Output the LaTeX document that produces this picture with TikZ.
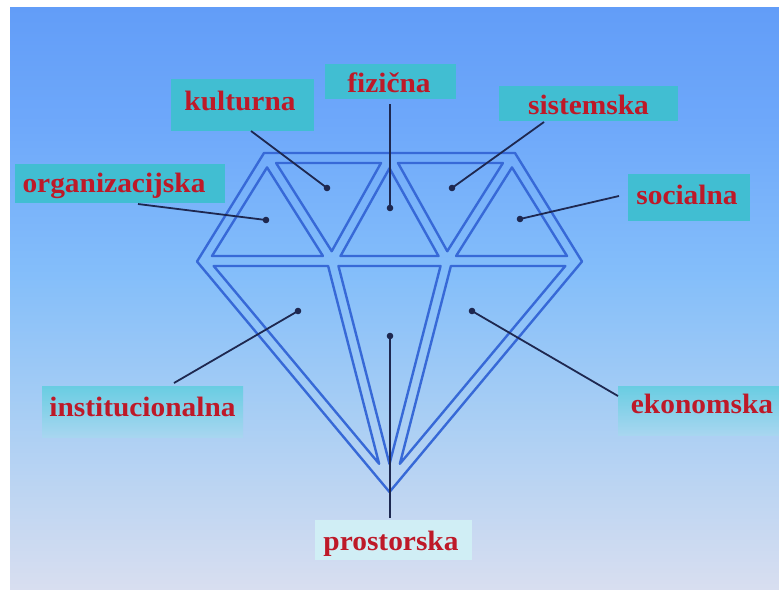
\documentclass[tikz,border=0pt]{standalone}
\usepackage{fontspec}
\setmainfont{Liberation Serif}
\newfontfamily\lblfont[FakeStretch=1.05]{Liberation Serif}
\definecolor{bgA}{RGB}{216,222,240}
\definecolor{bgB}{RGB}{168,206,244}
\definecolor{bgC}{RGB}{132,190,250}
\definecolor{bgD}{RGB}{110,168,250}
\definecolor{bgE}{RGB}{98,157,248}
\definecolor{facetblue}{RGB}{55,105,215}
\definecolor{ptrnavy}{RGB}{30,40,80}
\definecolor{lblred}{RGB}{190,25,40}
\definecolor{boxteal}{RGB}{65,190,210}
\definecolor{boxtealB}{RGB}{105,205,226}
\definecolor{boxfade}{RGB}{168,214,240}
\definecolor{boxlight}{RGB}{208,238,245}
\pgfdeclareverticalshading{bgshade}{100bp}{color(0bp)=(bgA); color(25bp)=(bgA); color(40bp)=(bgB); color(52bp)=(bgC); color(65bp)=(bgD); color(75bp)=(bgE); color(100bp)=(bgE)}
\tikzset{
  facetline/.style={draw=facetblue, line width=2.4pt, line join=round},
  ptr/.style={draw=ptrnavy, line width=1.8pt},
  lbl/.style={anchor=base, inner sep=0pt, text=lblred, font=\lblfont\bfseries\fontsize{28}{30}\selectfont},
  boxsolid/.style={fill=boxteal},
  boxfaded/.style={top color=boxtealB, bottom color=boxfade},
}
\newcommand{\facetdist}{5}
\newcommand{\facet}[6]{%
  \pgfmathsetmacro\fxA{#1/100}\pgfmathsetmacro\fyA{#2/100}%
  \pgfmathsetmacro\fxB{#3/100}\pgfmathsetmacro\fyB{#4/100}%
  \pgfmathsetmacro\fxC{#5/100}\pgfmathsetmacro\fyC{#6/100}%
  \pgfmathsetmacro\fla{veclen(\fxB-\fxC,\fyB-\fyC)}%
  \pgfmathsetmacro\flb{veclen(\fxA-\fxC,\fyA-\fyC)}%
  \pgfmathsetmacro\flc{veclen(\fxA-\fxB,\fyA-\fyB)}%
  \pgfmathsetmacro\fper{\fla+\flb+\flc}%
  \pgfmathsetmacro\fix{(\fla*\fxA+\flb*\fxB+\flc*\fxC)/\fper}%
  \pgfmathsetmacro\fiy{(\fla*\fyA+\flb*\fyB+\flc*\fyC)/\fper}%
  \pgfmathsetmacro\far{abs((\fxB-\fxA)*(\fyC-\fyA)-(\fxC-\fxA)*(\fyB-\fyA))}%
  \pgfmathsetmacro\frr{\far/\fper}%
  \pgfmathsetmacro\fk{(\frr-\facetdist/100)/\frr}%
  \pgfmathsetmacro\pax{100*(\fix+\fk*(\fxA-\fix))}\pgfmathsetmacro\pay{100*(\fiy+\fk*(\fyA-\fiy))}%
  \pgfmathsetmacro\pbx{100*(\fix+\fk*(\fxB-\fix))}\pgfmathsetmacro\pby{100*(\fiy+\fk*(\fyB-\fiy))}%
  \pgfmathsetmacro\pcx{100*(\fix+\fk*(\fxC-\fix))}\pgfmathsetmacro\pcy{100*(\fiy+\fk*(\fyC-\fiy))}%
  \draw[facetline] (\pax,\pay) -- (\pbx,\pby) -- (\pcx,\pcy) -- cycle;%
}
\begin{document}
\begin{tikzpicture}[x=1pt,y=-1pt]
\useasboundingbox (0,0) rectangle (779,589);
\fill[white] (0,0) rectangle (779,589);
\shade[shading=bgshade] (10,7) rectangle (779,589);

% label boxes
\fill[boxsolid] (171,79) rectangle (314,131);
\fill[boxsolid] (325,64) rectangle (456,99);
\fill[boxsolid] (499,86) rectangle (678,121);
\fill[boxsolid] (15,164) rectangle (225,203);
\fill[boxsolid] (628,174) rectangle (750,221);
\shade[boxfaded] (42,386) rectangle (243,437);
\shade[boxfaded] (618,386) rectangle (779,435);
\fill[boxlight] (315,520) rectangle (472,560);

% outer outline of the diamond
\draw[facetline] (197,261.5) -- (264,153) -- (515,153) -- (582,261.5) -- (389.5,492) -- cycle;
% facets (inset triangles)
\facet{203}{261}{267}{158}{332}{261}
\facet{267}{158}{389.5}{158}{332}{261}
\facet{332}{261}{389.5}{158}{447}{261}
\facet{389.5}{158}{512}{158}{447}{261}
\facet{447}{261}{512}{158}{576}{261}
\facet{203}{261}{332}{261}{389.5}{484}
\facet{332}{261}{447}{261}{389.5}{484}
\facet{447}{261}{576}{261}{389.5}{484}

% labels
\node[lbl] (kult) at (240,110) {kulturna};
\node[lbl] (fiz) at (389,92) {fizična};
\node[lbl] (sist) at (588.5,114) {sistemska};
\node[lbl] (org) at (114,192) {organizacijska};
\node[lbl] (soc) at (687,204) {socialna};
\node[lbl] (inst) at (142.5,416) {institucionalna};
\node[lbl] (eko) at (702,413) {ekonomska};
\node[lbl] (pros) at (391,550) {prostorska};

% pointer coordinates
\coordinate (kultS) at (251,131);  \coordinate (kultE) at (327,188);
\coordinate (fizS) at (390,104);   \coordinate (fizE) at (390,208);
\coordinate (sistS) at (544,122);  \coordinate (sistE) at (452,188);
\coordinate (orgS) at (138,204);   \coordinate (orgE) at (266,220);
\coordinate (socS) at (619,196);   \coordinate (socE) at (520,219);
\coordinate (instS) at (174,383);  \coordinate (instE) at (298,311);
\coordinate (ekoS) at (618,396);   \coordinate (ekoE) at (472,311);
\coordinate (prosS) at (390,518);  \coordinate (prosE) at (390,336);

\foreach \p in {kult,fiz,sist,org,soc,inst,eko,pros}{
  \draw[ptr] (\p S) -- (\p E);
  \fill[ptrnavy] (\p E) circle (3.3);
}
\end{tikzpicture}
\end{document}
